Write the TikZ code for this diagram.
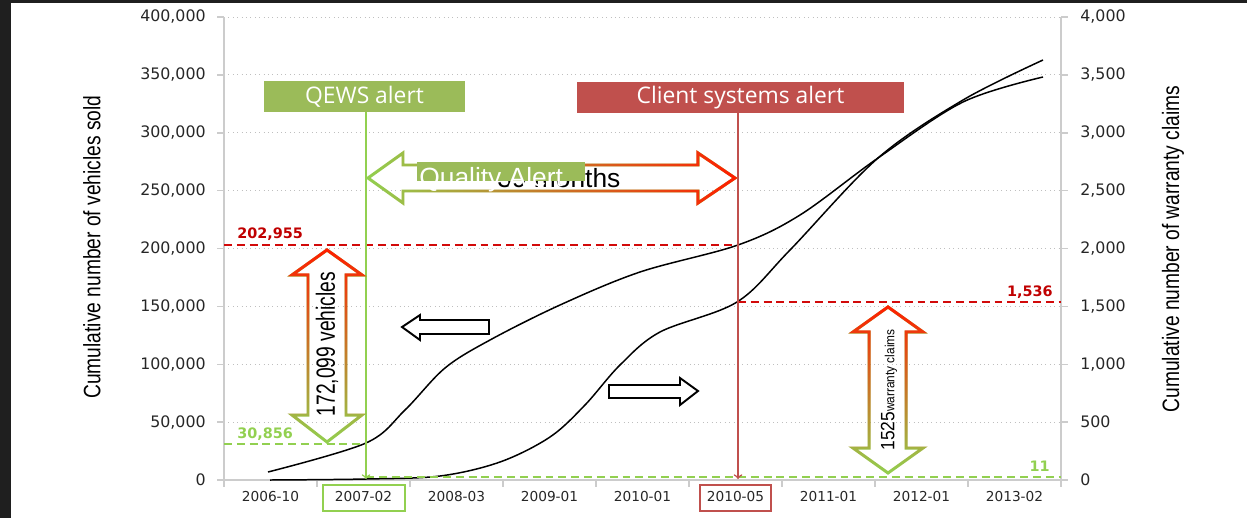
\documentclass[tikz,border=0pt]{standalone}
\usepackage{graphicx}
\usepackage{fontspec}
\setmainfont{Liberation Sans}
\newfontfamily\tickfont{DejaVu Sans}
\newfontfamily\boxfont{Open Sans}
\usepackage{tikz}
\usetikzlibrary{arrows, fadings}
\definecolor{qewsgreen}{RGB}{155,187,89}
\definecolor{clientred}{RGB}{192,80,77}
\definecolor{lightgreen}{RGB}{146,208,80}
\definecolor{alertred}{RGB}{255,30,0}
\definecolor{dashred}{RGB}{210,10,10}
\definecolor{labelred}{RGB}{192,0,0}
\tikzstyle{grid} = [draw=black!25, line width=0.5pt, dotted]
\tikzstyle{axis} = [draw=black!20, line width=0.85pt]
\tikzstyle{ticklabel} = [font=\tickfont\fontsize{9}{10}\selectfont, text=black!85, inner sep=0pt]
\tikzstyle{datelabel} = [font=\tickfont\fontsize{7.8}{9}\selectfont, text=black!85, inner sep=0pt]
\tikzstyle{datebox} = [rectangle, line width=1.1pt, minimum height=0.52cm]
\tikzstyle{axistitle} = [font=\fontsize{13.5}{15}\selectfont, rotate=90, inner sep=0pt]
\tikzstyle{valuelabel} = [font=\tickfont\bfseries\fontsize{8.2}{9}\selectfont, inner sep=0pt]
\tikzstyle{alertbox} = [font=\boxfont\fontsize{13}{15}\selectfont, rectangle, text=white, minimum height=0.62cm, inner sep=0pt]
\tikzstyle{curve} = [black, line width=0.85pt]
\tikzstyle{dashline} = [line width=1.1pt, dash pattern=on 4.5pt off 2.8pt]
\tikzstyle{alertline} = [line width=0.85pt, ->, >=to]
\tikzstyle{spanarrow} = [line width=1.7pt, draw=lightgreen, line join=miter]
\tikzstyle{hintarrow} = [line width=1.1pt, draw=black, fill=white]
\begin{document}
\begin{tikzpicture}[x=0.02cm, y=-0.02cm]
  \useasboundingbox (0,0) rectangle (1247,518);
  \fill[black!88] (0,0) rectangle (11,518);
  \fill[black!88] (0,0) rectangle (1247,3);
  \foreach \i in {1,...,8}
    \draw[grid] (224,{480-57.875*\i}) -- (1061,{480-57.875*\i});
  \foreach \i in {0,...,8} {
    \draw[axis] (217,{480-57.875*\i}) -- (224,{480-57.875*\i});
    \draw[axis] (1061,{480-57.875*\i}) -- (1068,{480-57.875*\i});
  }
  \foreach \k in {0,...,9}
    \draw[axis] ({224+93*\k},480) -- ({224+93*\k},487);
  \draw[axis] (224,17) -- (224,480) -- (1061,480) -- (1061,17);
  \foreach \t [count=\i from 0] in {0,{50,000},{100,000},{150,000},{200,000},{250,000},{300,000},{350,000},{400,000}}
    \node[ticklabel, anchor=east] (left\i) at (206,{480-57.875*\i}) {\t};
  \foreach \t [count=\i from 0] in {0,500,{1,000},{1,500},{2,000},{2,500},{3,000},{3,500},{4,000}}
    \node[ticklabel, anchor=west] (right\i) at (1080,{480-57.875*\i}) {\t};
  \foreach \d [count=\k from 0] in {2006-10,2007-02,2008-03,2009-01,2010-01,2010-05,2011-01,2012-01,2013-02}
    \node[datelabel] (date\k) at ({270.5+93*\k},497) {\d};
  \node[datebox, draw=lightgreen, minimum width=1.64cm] (qewsdate) at (364,498) {};
  \node[datebox, draw=clientred, minimum width=1.42cm] (clientdate) at (735.5,498) {};
  \node[axistitle] (soldtitle) at (92,247) {\scalebox{0.81}[1]{Cumulative number of vehicles sold}};
  \node[axistitle] (claimstitle) at (1173,249) {\scalebox{0.81}[1]{Cumulative number of warranty claims}};
  \draw[curve] plot[smooth, tension=0.55] coordinates {(268,472) (366,443) (405,410) (445,368) (490,340) (560,305) (640,272) (738,245) (800,215) (878,158) (963,102) (1043,77)};
  \draw[curve] plot[smooth, tension=0.55] coordinates {(270,480) (366,479) (440,476) (500,462) (550,437) (585,405) (620,365) (660,332) (737,302) (790,250) (878,158) (963,100) (1043,60)};
  \coordinate (soldleft) at (224,245);
  \coordinate (soldclient) at (738,245);
  \coordinate (claimclient) at (738,302);
  \coordinate (claimright) at (1061,302);
  \coordinate (qewsleft) at (224,444);
  \coordinate (qewssold) at (366,444);
  \coordinate (qewsclaim) at (366,477);
  \coordinate (claimend) at (1061,477);
  \draw[dashline, dashred] (soldleft) -- (soldclient);
  \draw[dashline, dashred] (claimclient) -- (claimright);
  \draw[dashline, lightgreen] (qewsleft) -- (qewssold);
  \draw[dashline, lightgreen] (qewsclaim) -- (claimend);
  \node[valuelabel, text=labelred, anchor=base west] (soldval) at (237,238) {202,955};
  \node[valuelabel, text=lightgreen, anchor=base west] (qewsval) at (237,438) {30,856};
  \node[valuelabel, text=labelred, anchor=base east] (claimval) at (1053,296) {1,536};
  \node[valuelabel, text=lightgreen, anchor=base east] (startval) at (1050,471) {11};
  \node[alertbox, fill=qewsgreen, minimum width=4.02cm] (qews) at (364.5,96.5) {QEWS alert};
  \node[alertbox, fill=clientred, minimum width=6.54cm] (client) at (740.5,97.5) {Client systems alert};
  \coordinate (qewsfoot) at (366,479);
  \coordinate (clientfoot) at (738,479);
  \draw[alertline, lightgreen] (qews.south -| qewsfoot) -- (qewsfoot);
  \draw[alertline, clientred] (client.south -| clientfoot) -- (clientfoot);
  \draw[spanarrow, postaction={draw=alertred, path fading=west}] (368,178) -- (403,153) -- (403,165) -- (698,165) -- (698,153) -- (735,178) -- (698,203) -- (698,191) -- (403,191) -- (403,203) -- cycle;
  \draw[spanarrow, postaction={draw=alertred, path fading=south}] (327,250) -- (362,275) -- (346,275) -- (346,415) -- (362,415) -- (327,442) -- (292,415) -- (308,415) -- (308,275) -- (292,275) -- cycle;
  \draw[spanarrow, postaction={draw=alertred, path fading=south}] (888,307) -- (923,332) -- (906,332) -- (906,448) -- (923,448) -- (888,473) -- (853,448) -- (869,448) -- (869,332) -- (853,332) -- cycle;
  \node[font=\fontsize{15}{17}\selectfont, rotate=90, inner sep=0pt] (soldgap) at (327,344) {\scalebox{0.73}[1]{172,099 vehicles}};
  \node[rotate=90, inner sep=0pt] (claimgap) at (889,390) {\scalebox{0.9}[1]{\fontsize{11}{12}\selectfont 1525\fontsize{7.5}{9}\selectfont warranty claims}};
  \draw[hintarrow] (402,327) -- (420,315) -- (420,320) -- (489,320) -- (489,334) -- (420,334) -- (420,340) -- cycle;
  \draw[hintarrow] (698,391) -- (680,378) -- (680,385) -- (609,385) -- (609,398) -- (680,398) -- (680,405) -- cycle;
  \node[font=\fontsize{15}{17}\selectfont, anchor=base west, inner sep=0pt] (months) at (497,187) {39 months};
  \node[fill=qewsgreen, minimum width=3.36cm, minimum height=0.38cm, inner sep=0pt, anchor=north west] (qualitybox) at (417,162) {};
  \node[font=\fontsize{15}{17}\selectfont, text=white, anchor=base west, inner sep=0pt] (quality) at (419,186) {Quality Alert};
\end{tikzpicture}
\end{document}
